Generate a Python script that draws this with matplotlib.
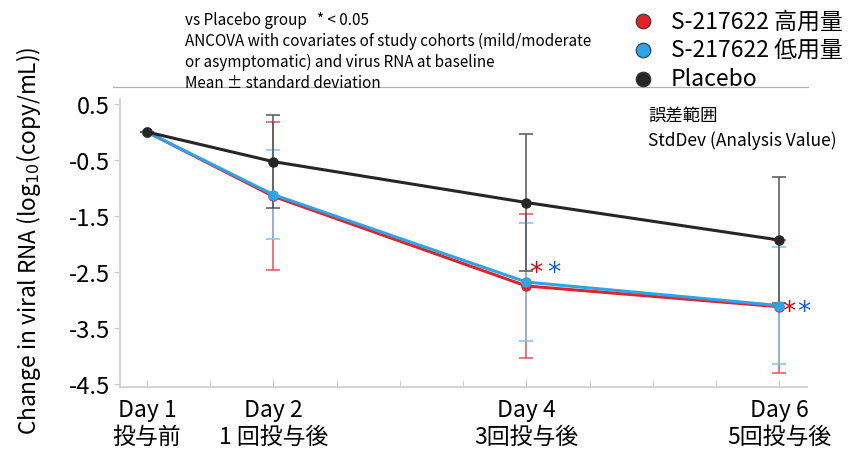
import matplotlib
matplotlib.use("Agg")
import matplotlib.pyplot as plt
from matplotlib.lines import Line2D

plt.rcParams['font.family'] = ['Noto Sans CJK JP', 'DejaVu Sans']

days = [1, 2, 4, 6]
day_labels = ["Day 1\n投与前", "Day 2\n1 回投与後", "Day 4\n3回投与後", "Day 6\n5回投与後"]

high_mean = [0.0, -1.15, -2.75, -3.12]
high_sd = [0.0, 1.32, 1.28, 1.19]
low_mean = [0.0, -1.12, -2.68, -3.10]
low_sd = [0.0, 0.79, 1.06, 1.05]
placebo_mean = [0.0, -0.53, -1.26, -1.93]
placebo_sd = [0.0, 0.83, 1.22, 1.12]

series = [
    ("S-217622 高用量", high_mean, high_sd, "#e0232b", "#e8505a"),
    ("S-217622 低用量", low_mean, low_sd, "#2ea3e8", "#7cc3ee"),
    ("Placebo", placebo_mean, placebo_sd, "#262626", "#555555"),
]

# days with significant difference vs placebo, and where the stars sit
sig_days = [4, 6]
sig_y = [-2.52, -3.22]
sig_gap = [0.145, 0.12]

fig = plt.figure(figsize=(8.56, 4.52), dpi=100)
ax = fig.add_axes([0.140, 0.142, 0.803, 0.637])

for i, (name, m, sd, col, ecol) in enumerate(series):
    ax.errorbar(days, m, yerr=sd, fmt='none', ecolor=ecol, elinewidth=1.3,
                capsize=5, capthick=1.3, alpha=0.85, zorder=2 + i)
    ax.plot(days, m, color=col, lw=2.2, marker='o', ms=6.5, zorder=5 + i)

for d, y, g in zip(sig_days, sig_y, sig_gap):
    ax.text(d + 0.075, y, "*", color="#e00010", fontsize=19,
            ha='center', va='center', family='DejaVu Sans')
    ax.text(d + 0.075 + g, y, "*", color="#1060cc", fontsize=19,
            ha='center', va='center', family='DejaVu Sans')

ax.set_xlim(0.786, 6.22)
ax.set_ylim(-4.55, 0.59)
ax.set_xticks([1 + 0.5 * k for k in range(11)], minor=True)
ax.set_xticks(days)
ax.set_xticklabels(day_labels, fontsize=16.5, linespacing=1.2)
ax.set_yticks([0.5, -0.5, -1.5, -2.5, -3.5, -4.5])
ax.set_yticklabels(["0.5", "-0.5", "-1.5", "-2.5", "-3.5", "-4.5"], fontsize=17)
ax.tick_params(axis='x', which='both', direction='in', length=5, color='#c8c8c8', pad=8)
ax.tick_params(axis='y', direction='out', length=4, color='#c8c8c8', pad=3)
for side in ['top', 'right']:
    ax.spines[side].set_visible(False)
for side in ['left', 'bottom']:
    ax.spines[side].set_color('#d0d0d0')
    ax.spines[side].set_linewidth(1.3)

ax.set_ylabel("Change in viral RNA (log$_{10}$(copy/mL))", fontsize=16.3)
ax.yaxis.set_label_coords(-0.112, 0.51)

notes = ("vs Placebo group   * < 0.05\n"
         "ANCOVA with covariates of study cohorts (mild/moderate\n"
         "or asymptomatic) and virus RNA at baseline\n"
         "Mean ± standard deviation")
fig.text(185 / 856, 1 - 12 / 452, notes, fontsize=11, va='top', ha='left',
         linespacing=1.3)

# thin separator under the notes
fig.add_artist(Line2D([113 / 856, 808 / 856], [1 - 88 / 452, 1 - 88 / 452],
                      color='#b0b0b0', lw=0.8))

# legend drawn by hand: marker + label per series
for k, (name, _, _, col, _) in enumerate(series):
    y = 1 - (22 + 29 * k) / 452
    fig.add_artist(Line2D([643 / 856], [y], ls='none', marker='o', ms=10.5,
                          markerfacecolor=col, markeredgecolor='#333333',
                          markeredgewidth=0.8))
    fig.text(671 / 856, y, name, fontsize=16.5, va='center', ha='left')

fig.text(648 / 856, 1 - 116 / 452, "誤差範囲", fontsize=12.5, va='center', ha='left')
fig.text(648 / 856, 1 - 141 / 452, "StdDev (Analysis Value)", fontsize=12.5,
         va='center', ha='left')

fig.savefig("out.png", dpi=100)
